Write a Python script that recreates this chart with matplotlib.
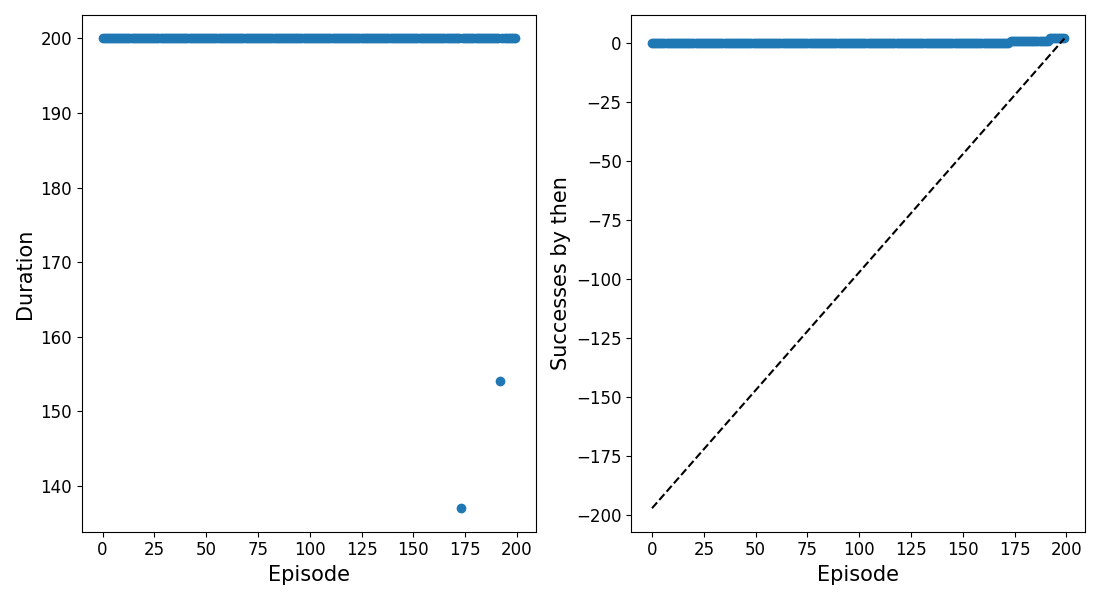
import numpy as np
import matplotlib
matplotlib.use("Agg")
import matplotlib.pyplot as plt

n_episodes = 200
episodes = list(range(n_episodes))
# durations: all 200 except two episodes
outlier_episodes = [173, 192]
outlier_durations = [137, 154]
durations = [200] * n_episodes
for e, d in zip(outlier_episodes, outlier_durations):
    durations[e] = d

# successes by then (cumulative count of episodes shorter than 200)
successes = list(np.cumsum([1 if d < 200 else 0 for d in durations]))

# dashed reference line endpoints
ref_x = [0, 199]
ref_y = [-197, 2]

fig, (ax1, ax2) = plt.subplots(1, 2, figsize=(11, 6), dpi=100)

ax1.scatter(episodes, durations)
ax1.set_xlabel("Episode", fontsize=15)
ax1.set_ylabel("Duration", fontsize=15)
ax1.tick_params(labelsize=12)

ax2.scatter(episodes, successes)
ax2.plot(ref_x, ref_y, "k--")
ax2.set_xlabel("Episode", fontsize=15)
ax2.set_ylabel("Successes by then", fontsize=15)
ax2.tick_params(labelsize=12)
ax1.set_xticks([0, 25, 50, 75, 100, 125, 150, 175, 200])
ax2.set_xticks([0, 25, 50, 75, 100, 125, 150, 175, 200])

fig.tight_layout()
fig.savefig("out.png")
